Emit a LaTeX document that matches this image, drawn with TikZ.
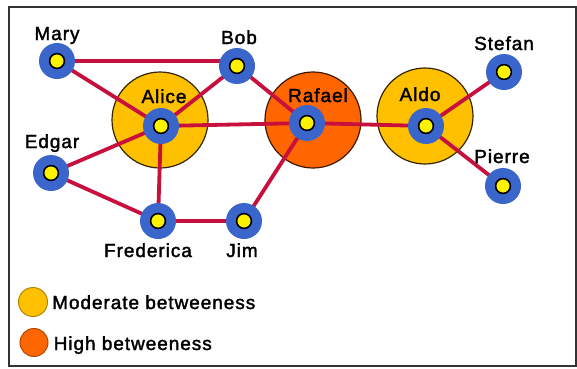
\documentclass[tikz,border=0pt]{standalone}
\usepackage{fontspec}
\setmainfont{Liberation Sans}
\newfontfamily\lblfont{Liberation Sans}[FakeBold=1.8,LetterSpace=5]
\definecolor{ringblue}{HTML}{3A66CC}
\definecolor{edgered}{HTML}{C8103E}
\definecolor{modyel}{HTML}{FFC000}
\definecolor{highor}{HTML}{FF6600}
\definecolor{frame}{HTML}{333333}
\pgfdeclarelayer{circles}
\pgfdeclarelayer{links}
\pgfsetlayers{circles,links,main}
\tikzset{
  person/.style={circle, fill=ringblue, minimum size=36pt, inner sep=0pt, path picture={
      \fill[yellow,draw=black,line width=1.6pt] (path picture bounding box.center) circle (7.4pt);}},
  link/.style={edgered, line width=3.8pt},
  bigmod/.style={fill=modyel, draw=black!80!modyel, line width=1.2pt},
  bighigh/.style={fill=highor, draw=black!75!highor, line width=1.2pt},
  lbl/.style={anchor=base, inner sep=0pt, font=\lblfont\fontsize{19}{21}\selectfont},
  leg/.style={anchor=base west, inner sep=0pt, font=\lblfont\fontsize{19}{21}\selectfont}
}
\begin{document}
\begin{tikzpicture}[x=1pt,y=-1pt]
\useasboundingbox (0,0) rectangle (577,368);
\begin{pgfonlayer}{circles}
\fill[white] (0,0) rectangle (577,368);
\draw[frame, line width=2.5pt] (9,7) rectangle (576,366);
\draw[bigmod] (160,120) circle (48);
\draw[bighigh] (313,120) circle (48);
\draw[bigmod] (425,116) circle (48);
\end{pgfonlayer}
% people
\node[person] (mary) at (57,61) {};
\node[person] (bob) at (237,66) {};
\node[person] (alice) at (161,126) {};
\node[person] (edgar) at (51,173) {};
\node[person] (fred) at (158,221) {};
\node[person] (jim) at (244,221) {};
\node[person] (rafael) at (307,123) {};
\node[person] (aldo) at (426,126) {};
\node[person] (stefan) at (504,72) {};
\node[person] (pierre) at (503,186) {};
% links
\begin{pgfonlayer}{links}
\draw[link] (mary.center) -- (mary.center -| bob.center);
\draw[link] (mary.center) -- (alice.center);
\draw[link] (bob.center) -- (alice.center);
\draw[link] (bob.center) -- (rafael.center);
\draw[link] (alice.center) -- (rafael.center);
\draw[link] (alice.center) -- (edgar.center);
\draw[link] (alice.center) -- (fred.center);
\draw[link] (edgar.center) -- (fred.center);
\draw[link] (fred.center) -- (jim.center);
\draw[link] (jim.center) -- (rafael.center);
\draw[link] (rafael.center) -- (aldo.center);
\draw[link] (aldo.center) -- (stefan.center);
\draw[link] (aldo.center) -- (pierre.center);
\end{pgfonlayer}
% labels
\node[lbl] (lmary) at (57,40) {Mary};
\node[lbl] (lbob) at (239,44) {Bob};
\node[lbl] (lalice) at (164,103) {Alice};
\node[lbl] (ledgar) at (52,148) {Edgar};
\node[lbl] (lfred) at (148,257) {Frederica};
\node[lbl] (ljim) at (242,257) {Jim};
\node[lbl] (lrafael) at (318,102) {Rafael};
\node[lbl] (laldo) at (420,101) {Aldo};
\node[lbl] (lstefan) at (504,50) {Stefan};
\node[lbl] (lpierre) at (502,163) {Pierre};
% legend
\draw[fill=modyel, draw=black!30!modyel, line width=1pt] (33,302) circle (14.5);
\draw[fill=highor, draw=black!30!highor, line width=1pt] (34,342.5) circle (14);
\node[leg] (lmod) at (52,309) {Moderate betweeness};
\node[leg] (lhigh) at (53.5,350) {High betweeness};
\end{tikzpicture}
\end{document}
